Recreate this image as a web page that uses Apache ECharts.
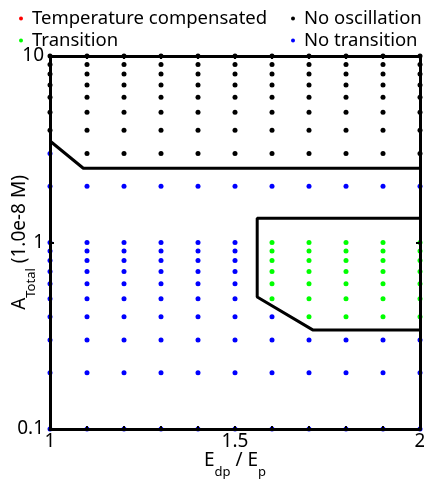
<!DOCTYPE html>
<html>
<head>
<meta charset="utf-8">
<script src="https://cdn.jsdelivr.net/npm/echarts@6/dist/echarts.min.js"></script>
<style>
  html, body { margin: 0; padding: 0; background: #fff; }
  #chart { width: 424px; height: 482px; }
</style>
</head>
<body>
<div id="chart"></div>
<script>
// E_dp / E_p 取值
var xVals = [1.0, 1.1, 1.2, 1.3, 1.4, 1.5, 1.6, 1.7, 1.8, 1.9, 2.0];
// A_Total 取值 (1.0e-8 M)
var yVals = [10, 9, 8, 7, 6, 5, 4, 3, 2, 1, 0.9, 0.8, 0.7, 0.6, 0.5, 0.4, 0.3, 0.2, 0.1];
// 每行状态: O = No oscillation, B = No transition, G = Transition, R = Temperature compensated
var statusRows = [
    'OOOOOOOOOOO', // 10
    'OOOOOOOOOOO', // 9
    'OOOOOOOOOOO', // 8
    'OOOOOOOOOOO', // 7
    'OOOOOOOOOOO', // 6
    'OOOOOOOOOOO', // 5
    'OOOOOOOOOOO', // 4
    'BOOOOOOOOOO', // 3
    'BBBBBBBBBBB', // 2
    'BBBBBBGGGGG', // 1
    'BBBBBBGGGGG', // 0.9
    'BBBBBBGGGGG', // 0.8
    'BBBBBBGGGGG', // 0.7
    'BBBBBBGGGGG', // 0.6
    'BBBBBBGGGGG', // 0.5
    'BBBBBBBGGGG', // 0.4
    'BBBBBBBBBBB', // 0.3
    'BBBBBBBBBBB', // 0.2
    'BBBBBBBBBBB'  // 0.1
];
// 边界线
var upperBoundary = [[1.0, 3.5], [1.09, 2.5], [2.0, 2.5]];
var lowerBoundary = [[2.0, 1.35], [1.56, 1.35], [1.56, 0.51], [1.71, 0.34], [2.0, 0.34]];

var xTickLabels = ['1', '1.5', '2'];

var groups = { R: [], G: [], O: [], B: [] };
for (var i = 0; i < yVals.length; i++) {
    for (var j = 0; j < xVals.length; j++) {
        groups[statusRows[i].charAt(j)].push([xVals[j], yVals[i]]);
    }
}

var FONT = 'Noto Sans';
var chart = echarts.init(document.getElementById('chart'));

function dotSeries(name, color, data) {
    return {
        name: name,
        type: 'scatter',
        symbol: 'circle',
        symbolSize: 5,
        itemStyle: { color: color, opacity: 1 },
        data: data,
        z: 2
    };
}

// 带下标的轴标题样式
var nameRich = {
    a: { fontSize: 19, color: '#000', fontFamily: FONT, lineHeight: 28, verticalAlign: 'top' },
    s: { fontSize: 13, color: '#000', fontFamily: FONT, lineHeight: 28, verticalAlign: 'bottom' }
};

var legendBase = {
    top: 4,
    orient: 'vertical',
    itemWidth: 12, itemHeight: 4, itemGap: 3,
    icon: 'circle',
    symbolKeepAspect: true,
    textStyle: { fontSize: 18.5, color: '#000', fontFamily: FONT }
};

var option = {
    animation: false,
    textStyle: { fontFamily: FONT },
    legend: [
        Object.assign({ left: 14, data: ['Temperature compensated', 'Transition'] }, legendBase),
        Object.assign({ left: 286, data: ['No oscillation', 'No transition'] }, legendBase)
    ],
    grid: { left: 50, right: 4, top: 56, bottom: 53, containLabel: false, outerBoundsMode: 'none' },
    xAxis: [{
        type: 'value', min: 1, max: 2, interval: 0.1,
        z: 5,
        axisLine: { lineStyle: { color: '#000', width: 3 } },
        axisTick: { inside: true, length: 3, lineStyle: { color: '#000', width: 2 } },
        splitLine: { show: false },
        axisLabel: {
            color: '#000', fontSize: 19, margin: 3, fontFamily: FONT,
            formatter: function (v) {
                var s = String(Math.round(v * 10) / 10);
                return xTickLabels.indexOf(s) >= 0 ? s : '';
            }
        },
        name: '{a|E}{s|dp}{a| / E}{s|p}',
        nameLocation: 'middle', nameGap: 22, nameMoveOverlap: false,
        nameTextStyle: { rich: nameRich }
    }, {
        type: 'value', min: 1, max: 2, interval: 0.1, position: 'top',
        z: 5,
        axisLine: { lineStyle: { color: '#000', width: 3 } },
        axisTick: { inside: true, length: 3, lineStyle: { color: '#000', width: 2 } },
        splitLine: { show: false },
        axisLabel: { show: false }
    }],
    yAxis: [{
        type: 'log', logBase: 10, min: 0.1, max: 10,
        z: 5,
        axisLine: { lineStyle: { color: '#000', width: 3 } },
        axisTick: { inside: true, length: 4, lineStyle: { color: '#000', width: 2 } },
        minorTick: { show: false },
        splitLine: { show: false },
        axisLabel: { color: '#000', fontSize: 19, margin: 6, fontFamily: FONT },
        name: '{a|A}{s|Total}{a| (1.0e-8 M)}',
        nameLocation: 'middle', nameRotate: 90, nameGap: 12, nameMoveOverlap: false,
        nameTextStyle: { rich: nameRich }
    }, {
        type: 'log', logBase: 10, min: 0.1, max: 10, position: 'right',
        z: 5,
        axisLine: { lineStyle: { color: '#000', width: 3 } },
        axisTick: { inside: true, length: 4, lineStyle: { color: '#000', width: 2 } },
        splitLine: { show: false },
        axisLabel: { show: false }
    }],
    series: [
        dotSeries('Temperature compensated', '#ff0000', groups.R),
        dotSeries('Transition', '#00ff00', groups.G),
        dotSeries('No oscillation', '#000000', groups.O),
        dotSeries('No transition', '#0000ff', groups.B),
        {
            type: 'line', data: upperBoundary, symbol: 'none', z: 3,
            lineStyle: { color: '#000', width: 3 }
        },
        {
            type: 'line', data: lowerBoundary, symbol: 'none', z: 3,
            lineStyle: { color: '#000', width: 3 }
        }
    ]
};
chart.setOption(option);
</script>
</body>
</html>
